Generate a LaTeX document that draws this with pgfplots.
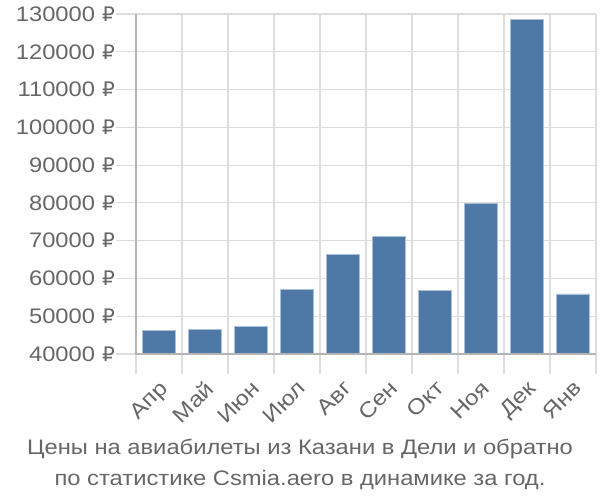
\documentclass[border=0pt]{standalone}
\usepackage{pgfplots}
\pgfplotsset{compat=1.18}
\usepackage{fontspec}
\setmainfont{Liberation Sans}[FakeStretch=1.13]
\newfontfamily\rub{DejaVu Sans}
\definecolor{barblue}{HTML}{4E79A7}
\definecolor{baredge}{HTML}{A9BFDA}
\definecolor{gridgray}{HTML}{DDDDDD}
\definecolor{axisgray}{HTML}{B5B5B5}
\definecolor{txtgray}{HTML}{666666}
\begin{document}
\begin{tikzpicture}
\path[use as bounding box] (-136bp,-146bp) rectangle (464bp,354bp);
\begin{axis}[
  scale only axis,
  width=460bp, height=340bp,
  xmin=-0.5, xmax=9.5,
  ymin=40000, ymax=130000,
  scaled y ticks=false,
  ytick={40000,50000,...,130000},
  xtick={0,...,9},
  xticklabels={Апр,Май,Июн,Июл,Авг,Сен,Окт,Ноя,Дек,Янв},
  minor xtick={-0.5,0.5,...,9.5},
  xmajorgrids=false, xminorgrids=true, ymajorgrids=true,
  grid style={gridgray, line width=1.2bp},
  minor grid style={gridgray, line width=1.2bp},
  major x tick style={draw=none},
  minor x tick style={gridgray, line width=1.2bp},
  ytick style={gridgray, line width=1.2bp},
  tick align=outside,
  major tick length=20bp,
  minor tick length=20bp,
  axis line style={draw=none},
  axis x line*=bottom, axis y line*=left,
  /pgf/number format/assume math mode=true,
  yticklabel={\pgfmathprintnumber[fixed,precision=0,1000 sep={}]{\tick}\hspace{7bp}{\rub\fontsize{20bp}{22bp}\selectfont ₽}},
  yticklabel style={font=\fontsize{21bp}{24bp}\selectfont, text=txtgray, inner sep=1bp},
  xticklabel style={font=\fontsize{21.5bp}{24bp}\selectfont, text=txtgray, rotate=45, anchor=north east, inner sep=1bp, xshift=-3bp, yshift=-2bp},
  clip=false,
]
\addplot[ybar, bar width=33bp, fill=barblue, draw=baredge, line width=0.8bp] coordinates {
(0,46300) (1,46400) (2,47200) (3,57100) (4,66400) (5,71200) (6,56900) (7,79900) (8,128600) (9,55900)
};
\draw[axisgray, line width=2bp] (axis cs:-0.5,130000) -- (axis cs:-0.5,40000) -- (axis cs:9.5,40000);
\end{axis}
\node[font=\fontsize{21bp}{24bp}\selectfont, text=txtgray, anchor=base] at (164bp,-100bp) {Цены на авиабилеты из Казани в Дели и обратно};
\node[font=\fontsize{21bp}{24bp}\selectfont, text=txtgray, anchor=base] at (164bp,-131bp) {по статистике Csmia.aero в динамике за год.};
\end{tikzpicture}
\end{document}
